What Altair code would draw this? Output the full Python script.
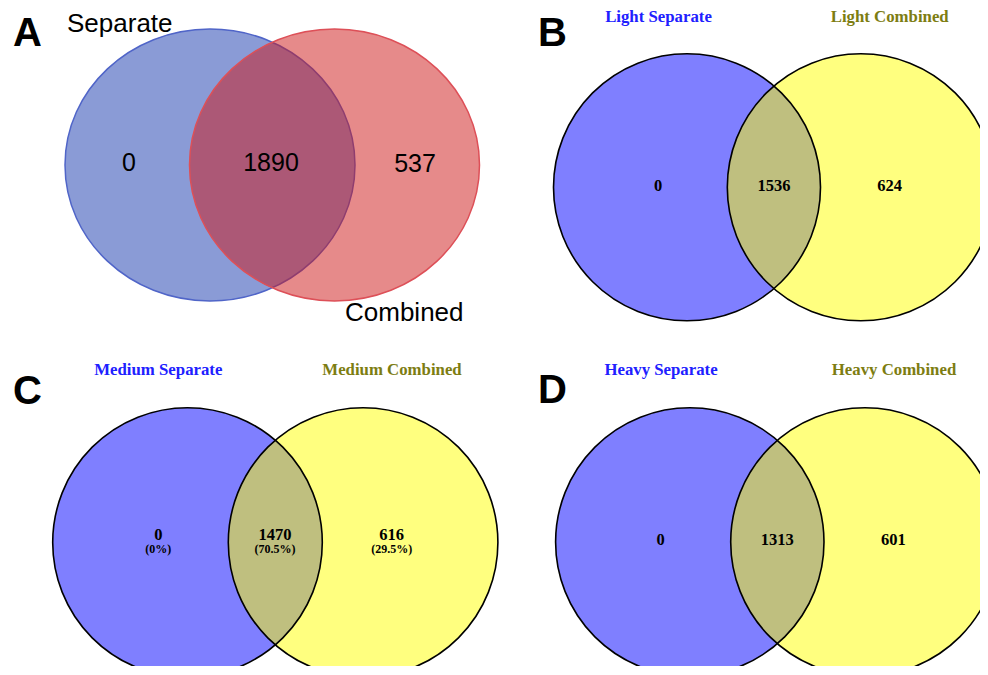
import altair as alt
import pandas as pd

# ---------------- data ----------------
panel_letters = ["A", "B", "C", "D"]
set_a_names = ["Separate", "Combined"]
set_b_names = ["Light Separate", "Light Combined"]
set_c_names = ["Medium Separate", "Medium Combined"]
set_d_names = ["Heavy Separate", "Heavy Combined"]
counts_a = [0, 1890, 537]
counts_b = [0, 1536, 624]
counts_c = [0, 1470, 616]
counts_d = [0, 1313, 601]
percent_c = ["(0%)", "(70.5%)", "(29.5%)"]

# ---------------- layout (reference pixel frame) ----------------
W, H = 972, 658
X0, X1 = 8, 8 + W
Y0, Y1 = 8, 8 + H

xs = alt.Scale(domain=[X0, X1], range=[0, W])
ys = alt.Scale(domain=[Y0, Y1], range=[0, H])

# Panel A: ellipses
ell_rx, ell_ry = 145, 136
ell = pd.DataFrame({
    "x": [210, 334.5], "y": [165, 165],
    "fill": ["#1537ad", "#cd1515"],
    "stroke": ["#5065c8", "#dd5058"],
    "name": set_a_names,
})
e = ell_ry / ell_rx
k = 0.5523
ellipse_path = (
    f"M1,0 C1,{k*e:.4f} {k},{e:.4f} 0,{e:.4f} "
    f"C{-k},{e:.4f} -1,{k*e:.4f} -1,0 "
    f"C-1,{-k*e:.4f} {-k},{-e:.4f} 0,{-e:.4f} "
    f"C{k},{-e:.4f} 1,{-k*e:.4f} 1,0 Z"
)
ell_size = (2 * ell_rx) ** 2

# Panels B-D: circles
circ = pd.DataFrame({
    "panel": ["B", "B", "C", "C", "D", "D"],
    "x": [687, 860.8, 187.5, 363.1, 689.8, 864.9],
    "y": [187.3, 187.3, 542.5, 542.5, 542, 542],
    "r": [133.5, 133.5, 134.8, 134.8, 134.2, 134.2],
    "fill": ["#0000ff", "#ffff00"] * 3,
})
circ["size"] = (2 * circ["r"]) ** 2
circ_blue = circ.iloc[[0, 2, 4]]
circ_yellow = circ.iloc[[1, 3, 5]]


def X():
    return alt.X("x:Q", scale=xs, axis=None)


def Y():
    return alt.Y("y:Q", scale=ys, axis=None)


layers = []

# Panel A ellipses (fill + outline each, blue under red)
for i in range(2):
    layers.append(
        alt.Chart(ell.iloc[[i]]).mark_point(
            shape=ellipse_path, filled=True, fillOpacity=0.5,
            strokeOpacity=1, strokeWidth=1.5, size=ell_size,
        ).encode(
            x=X(), y=Y(),
            fill=alt.Fill("fill:N", scale=None),
            stroke=alt.Stroke("stroke:N", scale=None),
        )
    )

# Panels B-D fills
for dfc in (circ_blue, circ_yellow):
    layers.append(
        alt.Chart(dfc).mark_point(
            shape="circle", filled=True, fillOpacity=0.5, strokeWidth=0,
        ).encode(
            x=X(), y=Y(),
            fill=alt.Fill("fill:N", scale=None),
            size=alt.Size("size:Q", scale=None),
        )
    )
# Panels B-D outlines
layers.append(
    alt.Chart(circ).mark_point(
        shape="circle", filled=False, stroke="black", strokeWidth=1.6, opacity=1,
    ).encode(
        x=X(), y=Y(),
        size=alt.Size("size:Q", scale=None),
    )
)

# Count labels
cnt_a = pd.DataFrame({"x": [129, 271, 415], "y": [163, 163, 164],
                      "t": [str(v) for v in counts_a]})
layers.append(
    alt.Chart(cnt_a).mark_text(font="Liberation Sans", fontSize=25,
                               color="black", baseline="middle", align="center")
    .encode(x=X(), y=Y(), text="t:N")
)
cnt_bcd = pd.DataFrame({
    "x": [658, 774, 889.7, 158.3, 275, 391.7, 660.7, 777.3, 893.3],
    "y": [186] * 3 + [534.5] * 3 + [540.3] * 3,
    "t": [str(v) for v in counts_b + counts_c + counts_d],
})
layers.append(
    alt.Chart(cnt_bcd).mark_text(font="Liberation Serif", fontSize=16.5,
                                 fontWeight="bold", color="black",
                                 baseline="middle", align="center")
    .encode(x=X(), y=Y(), text="t:N")
)
pct = pd.DataFrame({"x": [158.3, 275, 391.7], "y": [548.7] * 3, "t": percent_c})
layers.append(
    alt.Chart(pct).mark_text(font="Liberation Serif", fontSize=12,
                             fontWeight="bold", color="black",
                             baseline="middle", align="center")
    .encode(x=X(), y=Y(), text="t:N")
)

# Set names panel A
names_a = pd.DataFrame({"x": [67, 345], "y": [23.5, 313], "t": set_a_names})
layers.append(
    alt.Chart(names_a).mark_text(font="Liberation Sans", fontSize=26,
                                 color="black", baseline="middle", align="left")
    .encode(x=X(), y=Y(), text="t:N")
)
# Set names B-D
names_bcd = pd.DataFrame({
    "x": [658.5, 889.7, 158.3, 392, 661, 894],
    "y": [17.2, 17.2, 370.3, 370.3, 370, 370],
    "t": set_b_names + set_c_names + set_d_names,
    "c": ["#2020ff", "#7d7d12"] * 3,
})
layers.append(
    alt.Chart(names_bcd).mark_text(font="Liberation Serif", fontSize=16.8,
                                   fontWeight="bold", baseline="middle", align="center")
    .encode(x=X(), y=Y(), text="t:N", color=alt.Color("c:N", scale=None))
)

# Panel letters
letters = pd.DataFrame({"x": [13, 538, 13, 538], "y": [34, 34, 392, 391],
                        "t": panel_letters})
layers.append(
    alt.Chart(letters).mark_text(font="Liberation Sans", fontSize=40,
                                 fontWeight="bold", color="black",
                                 baseline="middle", align="left")
    .encode(x=X(), y=Y(), text="t:N")
)

chart = alt.layer(*layers).properties(
    width=W, height=H, padding=0,
    autosize=alt.AutoSizeParams(type="none"),
).configure(
    background="white",
    view=alt.ViewConfig(strokeWidth=0),
)

chart.save("out.html", embed_options={"renderer": "svg", "actions": False})
